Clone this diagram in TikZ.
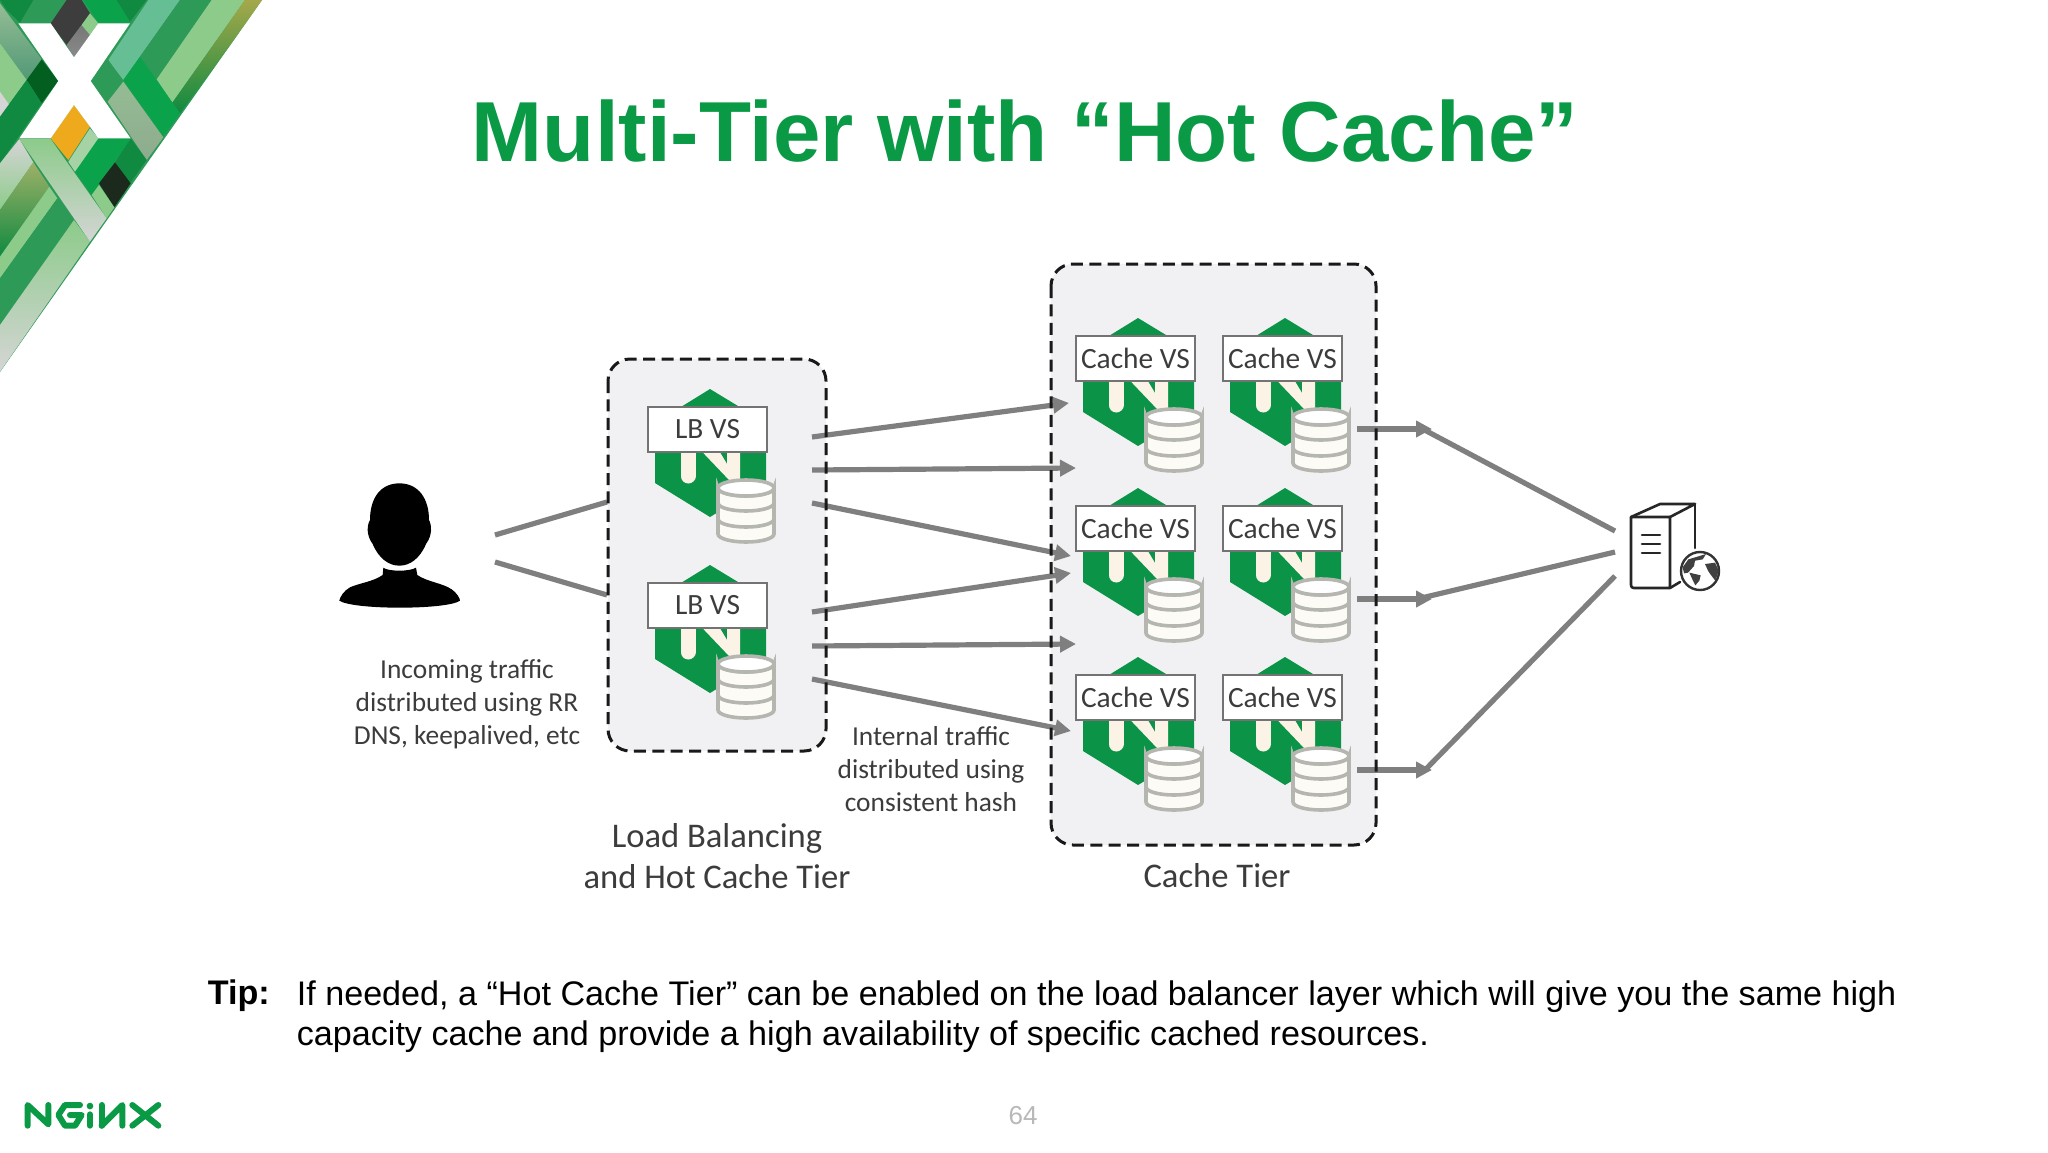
\documentclass[tikz,border=0pt]{standalone}
\usepackage{fontspec}
\setmainfont{Liberation Sans}
\newfontfamily\calib{Carlito}
\usetikzlibrary{arrows.meta}
\definecolor{ngreen}{HTML}{0A9A46}
\definecolor{hexgreen}{HTML}{0B9447}
\definecolor{wire}{HTML}{7F7F80}
\definecolor{cream}{HTML}{FBF4E6}
\definecolor{dbline}{HTML}{B6B6B0}
\definecolor{panel}{HTML}{F1F1F3}
\definecolor{txt}{HTML}{3C3C3C}
\definecolor{artA}{HTML}{2E9A58}
\definecolor{artB}{HTML}{0F8A40}
\definecolor{artC}{HTML}{0BA24C}
\definecolor{artD}{HTML}{66BF94}
\definecolor{artE}{HTML}{8CCB8A}
\definecolor{artF}{HTML}{94BD94}
\definecolor{artG}{HTML}{D5D5D5}
\definecolor{artH}{HTML}{035F20}
\definecolor{artI}{HTML}{EEAA1C}
\definecolor{artJ}{HTML}{1C2A1E}
\definecolor{artK}{HTML}{A5A84A}
\definecolor{artL}{HTML}{3D3D3D}
\definecolor{artM}{HTML}{8A8A8A}
\definecolor{artN}{HTML}{A5D3A5}
\tikzset{
  x=0.5pt,y=-0.5pt,
  wireline/.style={draw=wire,line width=2.6pt},
  wirearrow/.style={wireline,-{Triangle[length=8pt,width=8pt]}},
  tier/.style={draw=black!90,line width=1.5pt,dash pattern=on 6pt off 3.2pt,rounded corners=11pt},
  tierfill/.style={fill=panel,rounded corners=11pt},
  vslabel/.style={draw=gray!90!black,line width=1.2pt,fill=white,minimum width=59.5pt,minimum height=22.5pt,inner sep=0pt,text=txt,font=\calib\fontsize{14.7}{16}\selectfont},
  dbstyle/.style={draw=dbline,line width=1.8pt,fill=#1},
  note/.style={text=txt,align=center,font=\calib\fontsize{13.7}{16.4}\selectfont},
  tierlabel/.style={text=txt,align=center,font=\calib\fontsize{17.3}{20.3}\selectfont},
  bodytext/.style={text=black,anchor=base west,inner sep=0pt,font=\fontsize{17.06}{20.3}\selectfont},
  logostroke/.style={draw=ngreen,line width=3pt,line cap=round,line join=round},
  srv/.style={draw=black!85,line width=1.3pt,line join=round,line cap=round},
}
\newcommand{\vsicon}[4]{%
  \begin{scope}[shift={(#2,#3)}]
    \fill[hexgreen] (0,0) -- (56,34) -- (56,94) -- (0,128) -- (-55,94) -- (-55,34) -- cycle;
    \draw[cream,line width=7.5pt,line cap=round] (-22,50) -- (-22,87);
    \fill[cream] (-20,50) -- (2,50) -- (17,75) -- (17,50) -- (30,50) -- (30,92) -- (20,92) -- cycle;
    \path[dbstyle=cream!40!white] (8,99) -- (8,145) arc (180:0:28 and 8) -- (64,99) arc (0:180:28 and 8) -- cycle;
    \draw[dbline,line width=1.8pt,fill=white] (36,99) ellipse (28 and 8);
    \draw[dbline,line width=1.8pt] (8,114) arc (180:0:28 and 8) (8,130) arc (180:0:28 and 8);
    \node[vslabel] (#1) at (-2.5,40.5) {#4};
  \end{scope}}
\begin{document}
\begin{tikzpicture}
\useasboundingbox (0,0) rectangle (2048,1152);
\fill[white] (0,0) rectangle (2048,1152);

% corner artwork
\begin{scope}
\clip (0,0) -- (262,0) -- (0,372) -- cycle;
\begin{scope}[scale=1/3]
\fill[artA] (0,0) rectangle (800,1120);
\fill[artB] (0,0) -- (100,0) -- (60,68) -- (20,30) -- cycle;
\fill[artA] (65,68) -- (105,0) -- (195,0) -- (150,68) -- cycle;
\fill[artL] (152,70) -- (200,0) -- (245,0) -- (270,40) -- (200,135) -- cycle;
\shade[top color=artL!70!white,bottom color=artM] (200,135) -- (245,75) -- (270,105) -- (222,172) -- cycle;
\fill[artE] (245,75) -- (270,40) -- (295,70) -- (270,105) -- cycle;
\fill[artC] (250,0) -- (350,0) -- (390,68) -- (295,68) -- cycle;
\fill[artB] (350,0) -- (440,0) -- (390,65) -- cycle;
\fill[artD] (325,180) -- (445,0) -- (540,0) -- (370,240) -- cycle;
\fill[artA] (420,170) -- (540,0) -- (635,0) -- (470,238) -- cycle;
\fill[artE] (470,238) -- (635,0) -- (735,0) -- (517,308) -- cycle;
\shade[top color=artK,bottom color=artB] (517,308) -- (735,0) -- (790,0) -- (540,340) -- cycle;
\fill[artC] (370,240) -- (420,170) -- (540,340) -- (490,410) -- cycle;
\fill[artA] (273,243) -- (325,180) -- (365,240) -- (323,305) -- cycle;
\shade[top color=artF,bottom color=artF!70!gray] (323,305) -- (370,245) -- (490,412) -- (440,480) -- cycle;
\fill[artB] (392,415) -- (440,480) -- (390,550) -- (345,487) -- cycle;
\fill[artC] (295,415) -- (392,415) -- (275,585) -- (225,515) -- cycle;
\fill[artJ] (297,550) -- (345,487) -- (392,550) -- (343,622) -- cycle;
\fill[artE] (275,585) -- (297,555) -- (343,622) -- (320,655) -- cycle;
\fill[artN] (205,485) -- (270,385) -- (295,415) -- (225,515) -- cycle;
\fill[artI] (222,315) -- (270,380) -- (205,480) -- (152,415) -- cycle;
% left side
\shade[top color=artF,bottom color=artD!80!black] (0,10) -- (125,178) -- (80,240) -- (0,130) -- cycle;
\fill[artH] (80,240) -- (125,178) -- (175,243) -- (125,310) -- cycle;
\fill[artE] (0,130) -- (80,240) -- (0,350) -- cycle;
\fill[artG] (0,275) -- (28,315) -- (0,352) -- cycle;
\fill[artB] (0,350) -- (80,240) -- (125,310) -- (0,490) -- cycle;
\shade[top color=artG,bottom color=artE] (0,490) -- (58,417) -- (100,487) -- (0,630) -- cycle;
\shade[top color=artK!60!artF,bottom color=artB] (0,630) -- (100,487) -- (148,560) -- (0,770) -- cycle;
\fill[artE] (0,770) -- (148,560) -- (172,595) -- (0,835) -- cycle;
\fill[artA] (0,835) -- (172,595) -- (222,660) -- (0,975) -- cycle;
\shade[top color=artE,bottom color=artG] (0,975) -- (222,660) -- (270,725) -- (0,1115) -- cycle;
\shade[top color=artE,bottom color=artG] (58,417) -- (152,417) -- (320,655) -- (270,725) -- cycle;
% the white X
\fill[white] (55,70) -- (152,70) -- (222,172) -- (295,70) -- (390,70) -- (272,243) -- (392,415) -- (295,415) -- (270,380) -- (222,315) -- (152,415) -- (58,415) -- (175,243) -- cycle;
\end{scope}
\end{scope}

% title
\node[anchor=base,text=ngreen,inner sep=0pt,font=\bfseries\fontsize{42.6}{50}\selectfont] (title) at (1025,161) {Multi-Tier with “Hot Cache”};

% panels
\fill[tierfill] (608,359) rectangle (826,751);
\fill[tierfill] (1051,264) rectangle (1376,845);

% connector ends
\coordinate (uA) at (495,535); \coordinate (uB) at (495,562);
\coordinate (pA) at (607,502); \coordinate (pB) at (607,595);
\coordinate (o1) at (812,437); \coordinate (i1) at (1069,403);
\coordinate (o2) at (812,470); \coordinate (i2) at (1076,468);
\coordinate (o3) at (812,503); \coordinate (i3) at (1071,556);
\coordinate (o4) at (812,612); \coordinate (i4) at (1071,573);
\coordinate (o5) at (812,646); \coordinate (i5) at (1076,644);
\coordinate (o6) at (812,679); \coordinate (i6) at (1071,731);
\coordinate (r1) at (1357,429); \coordinate (h1) at (1432,429); \coordinate (j1) at (1417,426);
\coordinate (r2) at (1357,599); \coordinate (h2) at (1432,599); \coordinate (j2) at (1417,599);
\coordinate (r3) at (1357,770); \coordinate (h3) at (1432,770); \coordinate (j3) at (1424,771);
\coordinate (s1) at (1615,531); \coordinate (s2) at (1615,552); \coordinate (s3) at (1615,576);

\draw[wireline] (uA) -- (pA);
\draw[wireline] (uB) -- (pB);
\draw[wirearrow] (o1) -- (i1);
\draw[wirearrow] (o2) -- (i2);
\draw[wirearrow] (o3) -- (i3);
\draw[wirearrow] (o4) -- (i4);
\draw[wirearrow] (o5) -- (i5);
\draw[wirearrow] (o6) -- (i6);
\draw[wirearrow] (r1) -- (h1);
\draw[wirearrow] (r2) -- (h2);
\draw[wirearrow] (r3) -- (h3);
\draw[wireline] (j1) -- (s1);
\draw[wireline] (j2) -- (s2);
\draw[wireline] (j3) -- (s3);

% panel outlines
\draw[tier] (608,359) rectangle (826,751);
\draw[tier] (1051,264) rectangle (1376,845);

% VS icons
\vsicon{lbA}{710}{389}{LB VS}
\vsicon{lbB}{710}{565}{LB VS}
\vsicon{caA}{1138}{318}{Cache VS}
\vsicon{caB}{1285}{318}{Cache VS}
\vsicon{caC}{1138}{488}{Cache VS}
\vsicon{caD}{1285}{488}{Cache VS}
\vsicon{caE}{1138}{657}{Cache VS}
\vsicon{caF}{1285}{657}{Cache VS}

% person
\begin{scope}[shift={(320,470)},scale=1/3]
\fill[black] (238,40) .. controls (295,40) and (327,85) .. (327,150) .. controls (335,165) and (338,195) .. (318,222) .. controls (300,265) and (270,287) .. (238,287) .. controls (206,287) and (176,265) .. (158,222) .. controls (138,195) and (141,165) .. (150,150) .. controls (150,85) and (181,40) .. (238,40) -- cycle;
\fill[black] (190,293) .. controls (205,305) and (270,305) .. (288,293) -- (292,315) .. controls (320,335) and (370,340) .. (395,358) .. controls (410,368) and (420,385) .. (420,392) .. controls (380,420) and (100,420) .. (58,392) .. controls (60,380) and (72,362) .. (90,352) .. controls (115,340) and (160,335) .. (188,315) -- cycle;
\end{scope}

% server
\draw[srv] (1631,517) -- (1631,585) .. controls (1631,587) and (1632,588) .. (1634,588) -- (1670,588) -- (1670,517) -- cycle;
\draw[srv] (1631,517) -- (1660,504) -- (1695,504) -- (1670,517);
\draw[srv] (1695,504) -- (1695,548);
\draw[srv] (1670,588) -- (1680,582);
\draw[srv] (1642,535) -- (1660,535) (1642,544) -- (1660,544) (1642,553) -- (1660,553);
\node[circle,draw=black!80,line width=1.2pt,fill=white,minimum size=19pt,inner sep=0pt] (globe) at (1700,571) {};
\begin{scope}[shift={(1660,540)},scale=1/3]
\fill[black!75] (68,82) -- (85,58) -- (112,50) -- (138,42) -- (128,58) -- (105,62) -- (102,78) -- (84,98) -- (72,100) -- cycle;
\fill[black!75] (88,98) -- (122,106) -- (118,122) -- (106,136) -- (98,120) -- cycle;
\fill[black!75] (135,72) -- (165,68) -- (176,92) -- (166,122) -- (152,104) -- (144,92) -- cycle;
\end{scope}

% labels
\node[note] (incoming) at (467,704) {Incoming traffic\\distributed using RR\\DNS, keepalived, etc};
\node[note] (internal) at (931,769) {Internal traffic\\distributed using\\consistent hash};
\node[tierlabel] (lbtier) at (717,856) {Load Balancing\\and Hot Cache Tier};
\node[tierlabel] (catier) at (1217,876) {Cache Tier};

% tip
\node[bodytext,font=\bfseries\fontsize{17.06}{20.3}\selectfont] (tip) at (207.5,1004) {Tip:};
\node[bodytext] (tipA) at (296.5,1005) {If needed, a “Hot Cache Tier” can be enabled on the load balancer layer which will give you the same high};
\node[bodytext] (tipB) at (296.5,1045.5) {capacity cache and provide a high availability of specific cached resources.};

% page number
\node[text=black!28,font=\fontsize{13}{15}\selectfont] (page) at (1023,1116) {64};

% logo
\begin{scope}[shift={(15,1095)},scale=1/3]
\draw[logostroke] (38,92) -- (38,30) -- (100,88) -- (100,30);
\draw[logostroke] (195,30) -- (150,30) -- (130,60) -- (150,92) -- (180,92) -- (200,60) -- (165,60);
\draw[logostroke] (225,58) -- (225,92);
\fill[ngreen] (225,33) circle (10);
\draw[logostroke] (260,92) -- (260,30);
\draw[logostroke] (260,92) -- (322,30) -- (322,92);
\draw[logostroke] (352,30) -- (430,92) (430,30) -- (352,92);
\end{scope}
\end{tikzpicture}
\end{document}
